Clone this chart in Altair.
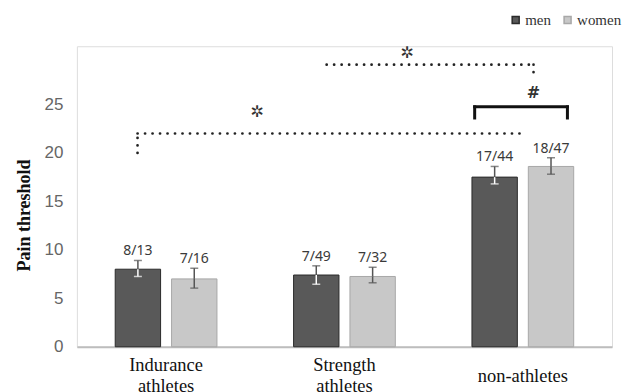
import altair as alt
import pandas as pd

groups = ["Indurance athletes", "Strength athletes", "non-athletes"]
sexes = ["men", "women"]
men_vals = [8.0, 7.4, 17.5]
women_vals = [7.0, 7.25, 18.6]
men_hi = [8.9, 8.35, 18.6]
men_lo = [7.25, 6.45, 16.8]
women_hi = [8.1, 8.2, 19.5]
women_lo = [6.05, 6.6, 17.8]
men_n = ["8/13", "7/49", "17/44"]
women_n = ["7/16", "7/32", "18/47"]

rows = []
for i, g in enumerate(groups):
    rows.append(dict(group=g, sex="men", value=men_vals[i], hi=men_hi[i], lo=men_lo[i], n=men_n[i]))
    rows.append(dict(group=g, sex="women", value=women_vals[i], hi=women_hi[i], lo=women_lo[i], n=women_n[i]))
df = pd.DataFrame(rows)

# annotations (x in group-index units, y in data units)
dot_x = [-0.16, -0.16, 0.90, 2.06]
dot_x2 = [-0.16, 2.00, 2.06, 2.06]
dot_y = [20.0, 22.0, 29.1, 29.1]
dot_y2 = [22.0, 22.0, 29.1, 28.3]
br_x = [1.73, 1.73, 2.25]
br_x2 = [2.25, 1.73, 2.25]
br_y = [24.75, 24.75, 24.75]
br_y2 = [24.75, 23.6, 23.6]
sym_x = [0.51, 1.35, 2.06]
sym_y = [24.2, 30.3, 26.2]
sym_t = ["✲", "✲", "#"]

dots = pd.DataFrame(dict(x=dot_x, x2=dot_x2, y=dot_y, y2=dot_y2))
brk = pd.DataFrame(dict(x=br_x, x2=br_x2, y=br_y, y2=br_y2))
syms = pd.DataFrame(dict(x=sym_x, y=sym_y, t=sym_t))

W, H = 536, 301
ydom = [0, 31]
yscale = alt.Scale(domain=ydom, nice=False, zero=True)

xband = alt.X("group:N", sort=groups,
              scale=alt.Scale(paddingInner=0, paddingOuter=0),
              axis=alt.Axis(title=None, labelAngle=0,
                            labelExpr="datum.value == 'non-athletes' ? 'non-athletes' : split(datum.value, ' ')",
                            labelFont="Liberation Serif", labelFontSize=18.5, labelColor="#111",
                            labelLineHeight=21, labelBaseline="top",
                            labelPadding={"condition": {"test": "datum.value == 'non-athletes'", "value": 20},
                                          "value": 9},
                            ticks=False, domainColor="#bdbdbd", domainWidth=2))
xoff = alt.XOffset("sex:N", sort=sexes, scale=alt.Scale(paddingInner=0.195, paddingOuter=0.68))

bars = alt.Chart(df).mark_bar(strokeWidth=1).encode(
    x=xband, xOffset=xoff,
    y=alt.Y("value:Q", scale=yscale,
            axis=alt.Axis(title="Pain threshold", values=[0, 5, 10, 15, 20, 25],
                          grid=False, domain=False, ticks=False,
                          labelFont="Liberation Sans", labelFontSize=17, labelColor="#666",
                          labelPadding=14,
                          titleFont="Liberation Serif", titleFontSize=18, titleFontWeight="bold",
                          titleColor="#111", titleY=169, titlePadding=11)),
    fill=alt.Fill("sex:N", sort=sexes,
                  scale=alt.Scale(domain=sexes, range=["#595959", "#c8c8c8"]),
                  legend=alt.Legend(title=None, orient="none", legendX=432, legendY=-34,
                                    direction="horizontal", symbolType="square", symbolSize=49,
                                    labelFont="Liberation Serif", labelFontSize=15, labelColor="#333",
                                    columnPadding=9, labelOffset=2)),
    stroke=alt.Stroke("sex:N", sort=sexes,
                      scale=alt.Scale(domain=sexes, range=["#2a2a2a", "#a8a8a8"]),
                      legend=None),
)

err_up = alt.Chart(df).mark_rule(color="#555", strokeWidth=1.5).encode(
    x=xband, xOffset=xoff, y=alt.Y("value:Q", scale=yscale), y2="hi:Q")
err_dn = alt.Chart(df).mark_rule(strokeWidth=1.5).encode(
    x=xband, xOffset=xoff, y=alt.Y("value:Q", scale=yscale), y2="lo:Q",
    color=alt.Color("sex:N", scale=alt.Scale(domain=sexes, range=["#ffffff", "#555555"]), legend=None))
cap_hi = alt.Chart(df).mark_tick(color="#555", thickness=1.5, size=8, orient="horizontal").encode(
    x=xband, xOffset=xoff, y=alt.Y("hi:Q", scale=yscale))
cap_lo = alt.Chart(df).mark_tick(thickness=1.5, size=8, orient="horizontal").encode(
    x=xband, xOffset=xoff, y=alt.Y("lo:Q", scale=yscale),
    color=alt.Color("sex:N", scale=alt.Scale(domain=sexes, range=["#ffffff", "#555555"]), legend=None))
ntext = alt.Chart(df).mark_text(font="Noto Sans", fontSize=14, color="#3a3a3a", baseline="bottom", dy=-2).encode(
    x=xband, xOffset=xoff, y=alt.Y("hi:Q", scale=yscale), text="n:N")

base = alt.layer(bars, err_up, err_dn, cap_hi, cap_lo, ntext)

xq = alt.Scale(domain=[-0.5, 2.5], nice=False, zero=False)
dot_layer = alt.Chart(dots).mark_rule(color="#222", strokeWidth=2.7, strokeDash=[0.1, 7.4], strokeCap="round").encode(
    x=alt.X("x:Q", scale=xq, axis=None), x2="x2:Q",
    y=alt.Y("y:Q", scale=yscale), y2="y2:Q")
br_layer = alt.Chart(brk).mark_rule(color="#111", strokeWidth=3, strokeCap="square").encode(
    x=alt.X("x:Q", scale=xq, axis=None), x2="x2:Q",
    y=alt.Y("y:Q", scale=yscale), y2="y2:Q")
sym_layer = alt.Chart(syms).mark_text(font="DejaVu Sans", fontSize=16, color="#333", fontWeight="bold").encode(
    x=alt.X("x:Q", scale=xq, axis=None), y=alt.Y("y:Q", scale=yscale), text="t:N")
ann = alt.layer(dot_layer, br_layer, sym_layer)

chart = alt.layer(base, ann).resolve_scale(x="independent").properties(
    width=W, height=H,
    autosize=alt.AutoSizeParams(type="none"),
    padding={"left": 69, "top": 38, "right": 10, "bottom": 45},
).configure_view(stroke=None).configure(background="white")

chart.save("out.html", embed_options={"renderer": "svg", "actions": False})
